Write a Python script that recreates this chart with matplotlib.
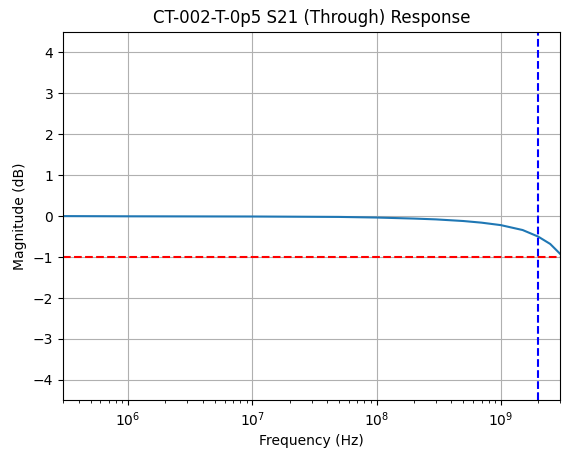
import matplotlib
matplotlib.use('Agg')
import matplotlib.pyplot as plt

# values
freq_hz = [3e5, 1e6, 1e7, 5e7, 1e8, 2e8, 3e8, 5e8, 7e8, 1e9, 1.5e9, 2e9, 2.5e9, 3e9]
mag_db = [0.0, -0.005, -0.01, -0.02, -0.035, -0.06, -0.08, -0.12, -0.16, -0.22, -0.34, -0.5, -0.68, -0.92]
cutoff_hz = 2e9
limit_db = -1

fig = plt.figure(figsize=(5.68, 4.54), dpi=100)
ax = fig.add_axes([0.111, 0.118, 0.875, 0.812])
ax.plot(freq_hz, mag_db)
ax.axvline(cutoff_hz, color='b', linestyle='--')
ax.axhline(limit_db, color='r', linestyle='--')
ax.set_xscale('log')
ax.set_xlim(3e5, 3e9)
ax.set_ylim(-4.5, 4.5)
ax.grid(True)
ax.set_title('CT-002-T-0p5 S21 (Through) Response')
ax.set_xlabel('Frequency (Hz)')
ax.set_ylabel('Magnitude (dB)')
fig.savefig('out.png')
